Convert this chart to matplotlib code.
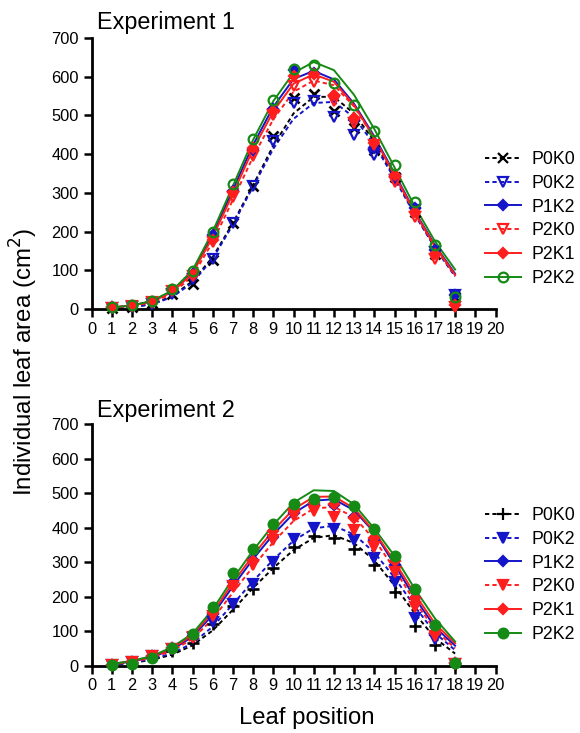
import matplotlib
matplotlib.use("Agg")
import matplotlib.pyplot as plt
from matplotlib.lines import Line2D

plt.rcParams['font.family'] = ['Liberation Sans', 'DejaVu Sans']

leaf = list(range(1, 19))
names = ["P0K0", "P0K2", "P1K2", "P2K0", "P2K1", "P2K2"]

# experiment 1 - measured points
e1_P0K0 = [3, 6, 15, 39, 65, 126, 222, 319, 446, 544, 556, 511, 468, 411, 342, 251, 143, 30]
e1_P0K2 = [3, 6, 14, 38, 78, 130, 222, 319, 433, 532, 537, 496, 450, 398, 333, 255, 148, 36]
e1_P1K2 = [4, 9, 18, 50, 90, 190, 305, 411, 517, 617, 610, 550, 489, 416, 342, 260, 152, 35]
e1_P2K0 = [3, 8, 17, 47, 85, 173, 290, 394, 502, 576, 586, 537, 481, 424, 329, 238, 130, 4]
e1_P2K1 = [4, 9, 19, 50, 87, 179, 303, 416, 511, 602, 606, 554, 494, 429, 346, 251, 143, 11]
e1_P2K2 = [4, 10, 20, 52, 98, 199, 323, 439, 541, 621, 629, 584, 528, 459, 371, 277, 165, 30]

# experiment 1 - fitted curves (read at each leaf position)
c1_P0K0 = [2, 5, 13, 33, 72, 134, 222, 320, 422, 505, 548, 548, 505, 433, 342, 247, 160, 87]
c1_P0K2 = [2, 5, 12, 31, 68, 130, 218, 316, 414, 491, 532, 535, 495, 425, 337, 244, 158, 84]
c1_P1K2 = [4, 9, 20, 46, 96, 193, 308, 424, 522, 594, 615, 593, 530, 446, 350, 252, 165, 91]
c1_P2K0 = [3, 8, 17, 40, 85, 173, 282, 393, 490, 561, 590, 578, 523, 441, 345, 249, 161, 87]
c1_P2K1 = [4, 9, 19, 44, 92, 186, 298, 413, 510, 582, 606, 587, 526, 442, 346, 249, 162, 88]
c1_P2K2 = [4, 9, 21, 48, 100, 200, 318, 437, 537, 610, 638, 617, 553, 465, 366, 265, 175, 102]

# experiment 2 - measured points
e2_P0K0 = [3, 9, 26, 43, 67, 121, 173, 223, 284, 345, 376, 369, 338, 293, 212, 115, 61, 6]
e2_P0K2 = [3, 10, 27, 48, 80, 128, 180, 237, 299, 367, 400, 397, 365, 313, 241, 139, 76, 6]
e2_P1K2 = [3, 10, 27, 50, 85, 150, 241, 306, 373, 441, 465, 465, 430, 365, 291, 195, 90, 7]
e2_P2K0 = [3, 10, 27, 48, 82, 145, 232, 293, 363, 434, 447, 432, 393, 345, 271, 171, 86, 6]
e2_P2K1 = [3, 10, 28, 50, 84, 152, 232, 302, 389, 454, 471, 469, 428, 370, 303, 197, 95, 7]
e2_P2K2 = [3, 6, 21, 52, 93, 171, 269, 337, 409, 467, 484, 489, 463, 395, 319, 221, 117, 8]

# experiment 2 - fitted curves
c2_P0K0 = [3, 8, 17, 32, 59, 102, 162, 225, 283, 335, 370, 378, 355, 305, 232, 152, 80, 35]
c2_P0K2 = [3, 9, 19, 36, 65, 113, 178, 245, 307, 362, 398, 405, 380, 328, 255, 172, 95, 45]
c2_P1K2 = [4, 12, 25, 47, 84, 147, 230, 309, 380, 441, 478, 482, 450, 386, 293, 197, 112, 58]
c2_P2K0 = [4, 11, 23, 43, 78, 135, 212, 287, 358, 419, 455, 460, 430, 366, 280, 186, 105, 50]
c2_P2K1 = [5, 13, 27, 50, 89, 154, 240, 320, 392, 453, 489, 490, 456, 388, 302, 208, 122, 65]
c2_P2K2 = [5, 14, 28, 54, 93, 163, 252, 334, 408, 472, 508, 506, 467, 397, 318, 223, 137, 70]

BLACK = "black"
BLUE = "#1414c8"
RED = "#ff1e1e"
GREEN = "#158a15"
DASH = (0, (2.2, 1.6))

colors = [BLACK, BLUE, BLUE, RED, RED, GREEN]
styles = [DASH, DASH, "-", DASH, "-", "-"]
# marker, filled?
marks1 = [("x", True), ("v", False), ("D", True), ("v", False), ("D", True), ("o", False)]
marks2 = [("+", True), ("v", True), ("D", True), ("v", True), ("D", True), ("o", True)]
msizes = {"x": 7, "+": 8, "v": 7.5, "D": 5, "o": 7}

fig = plt.figure(figsize=(5.8, 7.33), dpi=100)
ax1 = fig.add_axes([91.5 / 580, 1 - 309 / 733, 404 / 580, 271 / 733])
ax2 = fig.add_axes([91.5 / 580, 1 - 665.7 / 733, 404 / 580, 241.7 / 733])


def draw(ax, points, curves, marks, legend_y):
    handles = []
    for i in range(6):
        ax.plot(leaf, curves[i], color=colors[i], linestyle=styles[i], lw=1.4, zorder=2,
                solid_joinstyle="round")
    for i in range(6):
        m, filled = marks[i]
        fc = colors[i] if filled else "none"
        ax.plot(leaf, points[i], linestyle="none", marker=m, ms=msizes[m], mfc=fc,
                mec=colors[i], mew=1.9 if m in "x+" else 1.6, clip_on=False, zorder=3)
        handles.append(Line2D([], [], color=colors[i], linestyle=styles[i], lw=1.4, marker=m,
                              ms=msizes[m], mfc=fc, mec=colors[i], mew=1.6))
    ax.set_xlim(0, 20)
    ax.set_ylim(0, 700)
    ax.set_xticks(range(0, 21))
    ax.set_yticks(range(0, 701, 100))
    for s in ["top", "right"]:
        ax.spines[s].set_visible(False)
    for s in ["left", "bottom"]:
        ax.spines[s].set_linewidth(2)
    ax.tick_params(direction="out", length=6, width=1.8, labelsize=11.8, pad=3)
    fig.legend(handles=handles, labels=names, loc="center left",
               bbox_to_anchor=(485 / 580, 1 - legend_y / 733), frameon=False,
               fontsize=12.8, handlelength=2.0, handletextpad=0.6, labelspacing=0.38,
               borderpad=0, borderaxespad=0)


draw(ax1, [e1_P0K0, e1_P0K2, e1_P1K2, e1_P2K0, e1_P2K1, e1_P2K2],
     [c1_P0K0, c1_P0K2, c1_P1K2, c1_P2K0, c1_P2K1, c1_P2K2], marks1, 219)
draw(ax2, [e2_P0K0, e2_P0K2, e2_P1K2, e2_P2K0, e2_P2K1, e2_P2K2],
     [c2_P0K0, c2_P0K2, c2_P1K2, c2_P2K0, c2_P2K1, c2_P2K2], marks2, 575)

fig.text(97 / 580, 1 - 29 / 733, "Experiment 1", fontsize=16.8, va="baseline")
fig.text(97 / 580, 1 - 417 / 733, "Experiment 2", fontsize=16.8, va="baseline")
fig.text(24 / 580, 1 - 362 / 733, "Individual leaf area (cm$^2$)", fontsize=17.3,
         rotation=90, ha="center", va="center")
fig.text(307 / 580, 1 - 718 / 733, "Leaf position", fontsize=17.2, ha="center", va="center")

fig.savefig("out.png", dpi=100)
